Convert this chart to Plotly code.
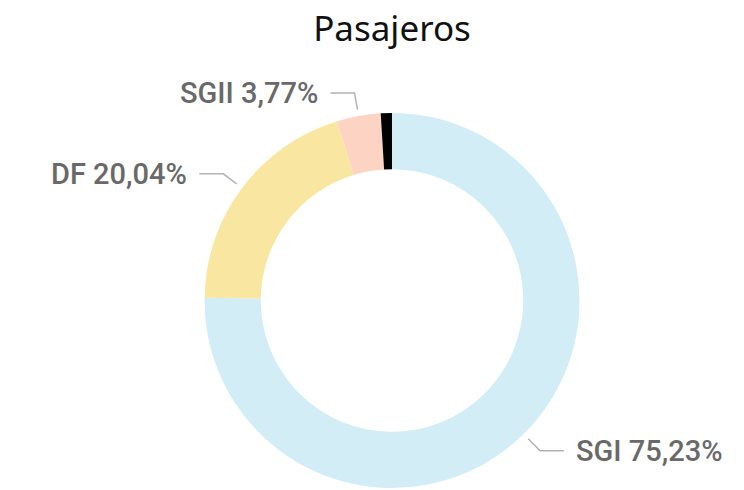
import math
import plotly.graph_objects as go

# ---- data ----
labels = ["SGI", "DF", "SGII", "Otros"]
values = [75.23, 20.04, 3.77, 0.96]
colors = ["#d3edf7", "#f9e6a0", "#fdd3c3", "#000000"]
show_label = [True, True, True, False]
title_text = "Pasajeros"

# ---- layout constants ----
W, H = 744, 490
ML, MR, MT, MB = 24, 0, 105, 10
pw, ph = W - ML - MR, H - MT - MB
cx, cy = ML + pw / 2, MT + ph / 2
R = min(pw, ph) / 2


def to_paper(px, py):
    return (px - ML) / pw, (H - MB - py) / ph


fig = go.Figure(go.Pie(
    labels=labels, values=values, hole=0.70, sort=False,
    direction="clockwise", rotation=0,
    marker=dict(colors=colors, line=dict(width=0)),
    textinfo="none", showlegend=False,
))

total = sum(values)
cum = 0.0
shapes, annotations = [], []
for lab, v, show in zip(labels, values, show_label):
    theta = 2 * math.pi * (cum + v / 2) / total
    cum += v
    if not show:
        continue
    dx, dy = math.sin(theta), -math.cos(theta)
    sgn = 1 if dx >= 0 else -1
    r1, r2 = R * 1.035, R * 1.125
    p1 = (cx + r1 * dx, cy + r1 * dy)
    p2 = (cx + r2 * dx, cy + r2 * dy)
    p3 = (p2[0] + sgn * 24, p2[1])
    pts = [to_paper(*p) for p in (p1, p2, p3)]
    path = "M {} {} L {} {} L {} {}".format(*pts[0], *pts[1], *pts[2])
    shapes.append(dict(type="path", path=path, xref="paper", yref="paper",
                       line=dict(color="#b3b3b3", width=1.5)))
    tx, ty = to_paper(p3[0] + sgn * 10, p3[1])
    pct = "{:.2f}".format(v / total * 100).replace(".", ",")
    annotations.append(dict(
        text=f"{lab} {pct}%", x=tx, y=ty, xref="paper", yref="paper",
        xanchor="left" if sgn > 0 else "right", yanchor="middle",
        showarrow=False,
        font=dict(family="Roboto", size=29, color="#696969", weight=500),
    ))

fig.update_layout(
    width=W, height=H,
    margin=dict(l=ML, r=MR, t=MT, b=MB),
    paper_bgcolor="white", plot_bgcolor="white",
    title=dict(text=title_text, x=0.5, xref="paper", xanchor="center",
               y=1 - 21 / H, yref="container", yanchor="middle",
               font=dict(family="Noto Sans", size=35, color="#111111")),
    shapes=shapes, annotations=annotations,
)

fig.write_html("out.html")
